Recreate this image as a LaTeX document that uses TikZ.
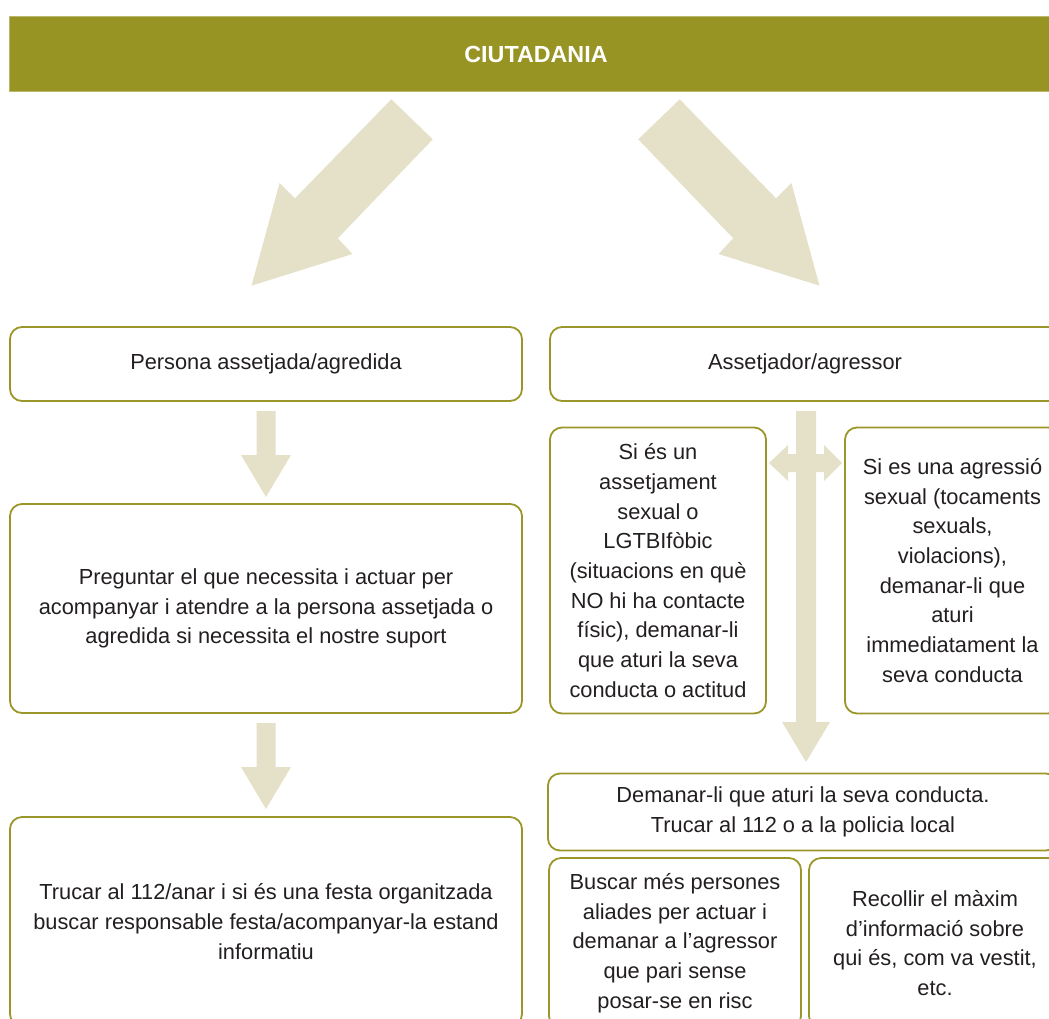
\documentclass[tikz,border=0pt]{standalone}
\usepackage{fontspec}
\setmainfont{Liberation Sans}
\definecolor{hdrol}{HTML}{979424}
\definecolor{hdredge}{HTML}{B9B66E}
\definecolor{boxol}{HTML}{9A962A}
\definecolor{arr}{HTML}{E4E1C8}
\definecolor{txt}{HTML}{231F20}
\begin{document}
\begin{tikzpicture}[x=1pt,y=-1pt,
  box/.style={draw=boxol, line width=1.8pt, rounded corners=12pt, fill=white,
    align=center, inner sep=0pt, text=txt, font=\fontsize{21.8}{29.7}\selectfont},
  blk/.style={fill=arr, draw=none},
  header/.style={fill=hdrol, draw=hdredge, line width=0.8pt, inner sep=0pt}]
\useasboundingbox (0,0) rectangle (1049,1018);
\clip (0,0) rectangle (1049,1018);

% header
\node[header, minimum width=1051pt, minimum height=75pt] (hdr) at (534.5,53.5) {};
\node[text=white, font=\fontsize{23.3}{26}\selectfont\bfseries, inner sep=0pt] (hdrtxt) at (536,54) {CIUTADANIA};

% diagonal block arrows
\fill[blk] (391.3,99.3) -- (432.8,139.3) -- (337.8,238.3) -- (352.5,254) -- (251.5,285.7) -- (279.6,183) -- (295,198.3) -- cycle;
\fill[blk] (679.7,99.3) -- (638.2,139.3) -- (733.2,238.3) -- (718.5,254) -- (819.5,285.7) -- (791.4,183) -- (776,198.3) -- cycle;

% left column boxes
\node[box, minimum width=512pt, minimum height=74pt] (pa) at (266,364) {Persona assetjada/agredida};
\node[box, minimum width=512pt, minimum height=209pt] (preg) at (266,608.5)
  {Preguntar el que necessita i actuar per\\acompanyar i atendre a la persona assetjada o\\agredida si necessita el nostre suport};
\node[box, minimum width=512pt, minimum height=209pt] (tru) at (266,921.5)
  {Trucar al 112/anar i si és una festa organitzada\\buscar responsable festa/acompanyar-la estand\\informatiu};

% right column boxes
\node[box, minimum width=510pt, minimum height=74pt] (ag) at (805,364) {Assetjador/agressor};
\node[box, minimum width=216pt, minimum height=286pt] (sexa) at (658,570.5)
  {Si és un\\assetjament\\sexual o\\LGTBIfòbic\\(situacions en què\\NO hi ha contacte\\físic), demanar-li\\que aturi la seva\\conducta o actitud};
\node[box, minimum width=215pt, minimum height=286pt] (sexb) at (952.5,570.5)
  {Si es una agressió\\sexual (tocaments\\sexuals,\\violacions),\\demanar-li que\\aturi\\immediatament la\\seva conducta};
\node[box, minimum width=510pt, minimum height=77pt] (dem) at (803,812)
  {Demanar-li que aturi la seva conducta.\\Trucar al 112 o a la policia local};
\node[box, minimum width=252pt, minimum height=170pt] (bus) at (675,943)
  {Buscar més persones\\aliades per actuar i\\demanar a l’agressor\\que pari sense\\posar-se en risc};
\node[box, minimum width=252pt, minimum height=170pt] (rec) at (935,943)
  {Recollir el màxim\\d’informació sobre\\qui és, com va vestit,\\etc.};

% left vertical block arrows
\fill[blk] (256.5,411) -- (275.5,411) -- (275.5,455) -- (291,455) -- (266,497) -- (241,455) -- (256.5,455) -- cycle;
\fill[blk] (256.5,723) -- (275.5,723) -- (275.5,767) -- (291,767) -- (266,809) -- (241,767) -- (256.5,767) -- cycle;

% central vertical block arrow
\fill[blk] (796,411) -- (816,411) -- (816,722) -- (830,722) -- (806,762) -- (782,722) -- (796,722) -- cycle;
% horizontal double block arrow
\fill[blk] (769,463) -- (788,445) -- (788,454) -- (824,454) -- (824,445) -- (842,463) -- (824,481) -- (824,472) -- (788,472) -- (788,481) -- cycle;
\end{tikzpicture}
\end{document}
